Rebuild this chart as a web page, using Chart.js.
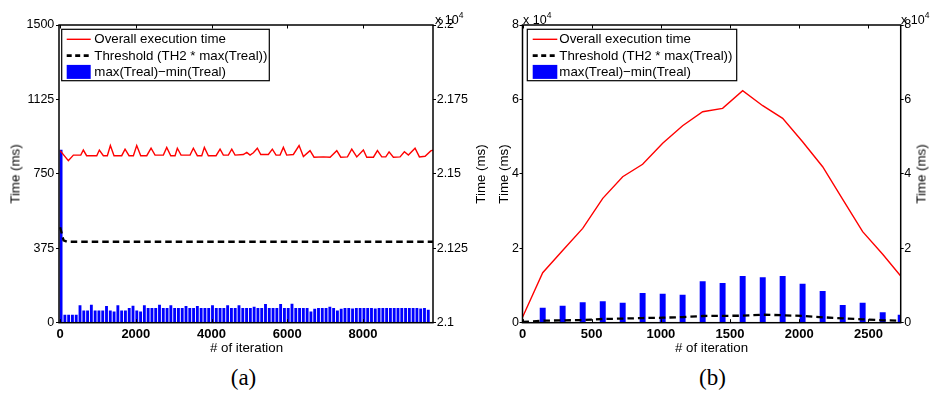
<!DOCTYPE html>
<html>
<head>
<meta charset="utf-8">
<script src="https://cdn.jsdelivr.net/npm/chart.js@4.4.0/dist/chart.umd.min.js"></script>
<style>
  body { margin:0; background:#fff; width:935px; height:394px; position:relative; overflow:hidden;
         font-family:'Liberation Sans', Arial, sans-serif; color:#000; }
  .panel { position:absolute; top:0; height:360px; }
  .lab { position:absolute; font-size:13.3px; white-space:nowrap; transform:translate(-50%,-50%); }
  .rot { transform:translate(-50%,-50%) rotate(-90deg); }
  .exp { position:absolute; font-size:12.5px; white-space:nowrap; line-height:14px; }
  .exp span { font-size:8.5px; vertical-align:6px; }
  .cap { position:absolute; font-family:'Liberation Serif', 'DejaVu Serif', serif; font-size:23px; transform:translate(-50%,-50%); }
</style>
</head>
<body>
<div class="panel" style="left:0;width:470px"><canvas id="chartA"></canvas></div>
<div class="panel" style="left:470px;width:465px"><canvas id="chartB"></canvas></div>

<div class="lab rot" style="left:15px;top:174px">Time (ms)</div>
<div class="lab rot" style="left:479.5px;top:174px">Time (ms)</div>
<div class="lab rot" style="left:502.5px;top:174px">Time (ms)</div>
<div class="lab rot" style="left:921px;top:174px">Time (ms)</div>
<div class="lab" style="left:246.5px;top:347px"># of iteration</div>
<div class="lab" style="left:711.5px;top:347px"># of iteration</div>
<div class="exp" style="left:435px;top:8px">x 10<span>4</span></div>
<div class="exp" style="left:523px;top:8px">x 10<span>4</span></div>
<div class="exp" style="left:901px;top:8px">x 10<span>4</span></div>
<div class="cap" style="left:243.5px;top:378px">(a)</div>
<div class="cap" style="left:712.5px;top:378px">(b)</div>

<script>
// ---- panel (a): ~10000 iterations ----
const aXTicks = [0, 2000, 4000, 6000, 8000];
const aYTicks = [0, 375, 750, 1125, 1500];
const aY2Ticks = [21000, 21250, 21500, 21750, 22000];

// overall execution time (right axis, ms)
const aRedIter = [0,217,350,545,613,700,967,1036,1142,1247,1327,1424,1627,1715,1820,1935,2023,2129,2288,2402,
  2507,2727,2816,2922,3036,3096,3194,3432,3519,3625,3741,3810,3916,4119,4225,4312,4444,4534,4621,4840,
  4930,5017,5105,5210,5300,5500,5606,5704,5810,5897,5985,6161,6312,6426,6602,6708,6954,7131,7308,7414,
  7590,7704,7836,8011,8100,8276,8382,8497,8602,8690,8803,8980,9094,9200,9376,9491,9641,9791,9850];
const aRedTime = [21578,21544,21563,21563,21580,21561,21561,21580,21561,21561,21595,21561,21561,21583,21561,21561,21595,21561,21561,21586,
  21563,21563,21589,21561,21561,21586,21563,21563,21586,21561,21561,21589,21561,21561,21583,21563,21563,21583,21563,21565,
  21572,21563,21571,21586,21565,21565,21583,21563,21563,21589,21563,21565,21595,21558,21578,21556,21557,21556,21578,21556,
  21557,21583,21557,21580,21556,21556,21578,21557,21557,21574,21556,21557,21574,21563,21586,21557,21559,21577,21580];

// threshold (left axis, ms)
const aThrIter = [0, 90, 180, 9850];
const aThrTime = [481, 415, 408, 408];

// max(Treal)-min(Treal) (left axis, ms)
const aBarIter = [25,125,225,325,425,525,625,725,825,925,
  1025,1125,1225,1325,1425,1525,1625,1725,1825,1925,
  2025,2125,2225,2325,2425,2525,2625,2725,2825,2925,
  3025,3125,3225,3325,3425,3525,3625,3725,3825,3925,
  4025,4125,4225,4325,4425,4525,4625,4725,4825,4925,
  5025,5125,5225,5325,5425,5525,5625,5725,5825,5925,
  6025,6125,6225,6325,6425,6525,6625,6725,6825,6925,
  7025,7125,7225,7325,7425,7525,7625,7725,7825,7925,
  8025,8125,8225,8325,8425,8525,8625,8725,8825,8925,
  9025,9125,9225,9325,9425,9525,9625,9725];
const aBarTime = [870,39,39,39,39,86,60,60,89,60,
  60,60,82,60,55,86,60,60,72,84,
  60,55,86,72,72,72,89,72,72,86,
  72,72,72,83,72,72,83,72,72,72,
  86,72,72,72,86,72,72,86,72,72,
  72,79,72,72,92,72,72,72,92,72,
  72,94,72,72,72,72,55,68,72,72,
  72,79,72,60,68,72,72,70,72,72,
  72,72,72,70,72,72,72,72,72,72,
  72,72,72,72,72,70,72,63];

// ---- panel (b): ~2700 iterations ----
const bXTicks = [0, 500, 1000, 1500, 2000, 2500];
const bYTicks = [0, 20000, 40000, 60000, 80000];
const bIter = [0,146,290,435,580,724,868,1013,1157,1302,1446,1591,1736,1880,2024,2169,2314,2458,2603,2733];
const bRedTime = [1450,13436,19400,25350,33420,39240,42560,48200,52940,56700,57600,62340,58310,54920,48640,41920,33160,24460,18400,12550];
const bThrTime = [200,540,620,720,1000,1100,1250,1340,1500,1800,1850,1880,2150,2010,1800,1450,1180,900,640,540];
const bBarIter = [146,290,435,580,724,868,1013,1157,1302,1446,1591,1736,1880,2024,2169,2314,2458,2603,2733];
const bBarTime = [3950,4490,5380,5650,5290,7900,7710,7440,11020,10590,12470,12100,12470,10400,8430,4670,5290,2690,2070];

const labels = ['Overall execution time', 'Threshold (TH2 * max(Treal))', 'max(Treal)\u2212min(Treal)'];

Chart.defaults.font.family = "'Liberation Sans', Arial, sans-serif";
Chart.defaults.color = '#000';

const pts = (xs, ys) => xs.map((x, i) => ({x: x, y: ys[i]}));
const fixTicks = list => s => { s.ticks = list.map(v => ({value: v})); };
const legendFont = Chart.helpers.toFont({ size: 13.3, family: "'Liberation Sans', Arial, sans-serif" });

// MATLAB-like frame: box, inward x ticks, and a boxed legend
const frame = {
  id: 'frame',
  afterDraw(chart, args, o) {
    const ctx = chart.ctx, a = chart.chartArea, xs = chart.scales.x;
    ctx.save();
    ctx.strokeStyle = '#000';
    ctx.lineWidth = 1;
    xs.ticks.forEach(t => {
      const px = Math.round(xs.getPixelForValue(t.value)) + 0.5;
      ctx.beginPath();
      ctx.moveTo(px, a.bottom); ctx.lineTo(px, a.bottom - 3.5);
      ctx.moveTo(px, a.top); ctx.lineTo(px, a.top + 3.5);
      ctx.stroke();
    });
    ctx.lineWidth = 1.5;
    ctx.strokeRect(a.left, a.top, a.right - a.left, a.bottom - a.top);

    const bx = a.left + o.dx, by = a.top + o.dy;
    ctx.fillStyle = '#fff';
    ctx.fillRect(bx, by, o.w, o.h);
    ctx.lineWidth = 1.2;
    ctx.strokeRect(bx, by, o.w, o.h);
    ctx.font = legendFont.string;
    ctx.textBaseline = 'middle';
    ctx.textAlign = 'left';
    chart.data.datasets.forEach((ds, i) => {
      const cy = by + 10 + i * 16.3;
      if (ds.type === 'bar') {
        ctx.fillStyle = ds.backgroundColor;
        ctx.fillRect(bx + o.s0, cy - 7, o.s1 - o.s0, 14);
      } else {
        ctx.strokeStyle = ds.borderColor;
        ctx.lineWidth = ds.borderDash ? 2.6 : 1.4;
        ctx.setLineDash(ds.borderDash ? [5, 3.5] : []);
        ctx.beginPath();
        ctx.moveTo(bx + o.s0, cy); ctx.lineTo(bx + o.s1, cy);
        ctx.stroke();
        ctx.setLineDash([]);
      }
      ctx.fillStyle = '#000';
      ctx.fillText(ds.label, bx + o.tx, cy + 0.5);
    });
    ctx.restore();
  }
};

function yAxis(pos, min, max, list, width, pad, fmt) {
  return {
    position: pos, min: min, max: max,
    afterBuildTicks: fixTicks(list),
    afterFit: s => { s.width = width; },
    grid: { drawOnChartArea: false, drawTicks: true, tickLength: 3, color: '#000' },
    border: { display: false },
    ticks: { font: { size: 12.5 }, color: '#000', padding: pad, callback: fmt }
  };
}

function xAxis(min, max, list) {
  return {
    type: 'linear', min: min, max: max, offset: false,
    afterBuildTicks: fixTicks(list),
    afterFit: s => { s.height = 37.3; },
    grid: { display: false, drawTicks: false },
    border: { display: false },
    ticks: { font: { size: 13, weight: 'bold' }, color: '#000', padding: 3.5, maxRotation: 0,
             autoSkip: false, callback: v => String(v) }
  };
}

const common = {
  responsive: true,
  maintainAspectRatio: false,
  animation: false,
  layout: { padding: { top: 25, left: 0, right: 0, bottom: 0 } },
  plugins: { legend: { display: false }, tooltip: { enabled: false } }
};

new Chart(document.getElementById('chartA'), {
  type: 'line',
  data: {
    datasets: [
      { type: 'line', label: labels[0], data: pts(aRedIter, aRedTime), yAxisID: 'y2',
        borderColor: '#ff0000', borderWidth: 1.4, pointRadius: 0, tension: 0 },
      { type: 'line', label: labels[1], data: pts(aThrIter, aThrTime), yAxisID: 'y',
        borderColor: '#000', borderWidth: 2.3, borderDash: [6.5, 4], pointRadius: 0, tension: 0 },
      { type: 'bar', label: labels[2], data: pts(aBarIter, aBarTime), yAxisID: 'y',
        backgroundColor: '#0000ff', barThickness: 2.2, borderWidth: 0 }
    ]
  },
  options: Object.assign({}, common, {
    scales: {
      x: xAxis(-30, 9850, aXTicks),
      y: yAxis('left', 0, 1500, aYTicks, 59, 1.7),
      y2: yAxis('right', 21000, 22000, aY2Ticks, 37, 0.7, v => String(v / 10000))
    },
    plugins: Object.assign({}, common.plugins, {
      frame: { dx: 2.7, dy: 4.3, w: 207.6, h: 51.4, s0: 5, s1: 29, tx: 32.6 }
    })
  }),
  plugins: [frame]
});

new Chart(document.getElementById('chartB'), {
  type: 'line',
  data: {
    datasets: [
      { type: 'line', label: labels[0], data: pts(bIter, bRedTime), yAxisID: 'y',
        borderColor: '#ff0000', borderWidth: 1.4, pointRadius: 0, tension: 0 },
      { type: 'line', label: labels[1], data: pts(bIter, bThrTime), yAxisID: 'y',
        borderColor: '#000', borderWidth: 2.3, borderDash: [6.5, 4], pointRadius: 0, tension: 0 },
      { type: 'bar', label: labels[2], data: pts(bBarIter, bBarTime), yAxisID: 'y',
        backgroundColor: '#0000ff', barThickness: 5.3, borderWidth: 0 }
    ]
  },
  options: Object.assign({}, common, {
    scales: {
      x: xAxis(0, 2733, bXTicks),
      y: yAxis('left', 0, 80000, bYTicks, 52.5, 0.5, v => String(v / 10000)),
      y2: yAxis('right', 0, 80000, bYTicks, 34.3, 0.5, v => String(v / 10000))
    },
    plugins: Object.assign({}, common.plugins, {
      frame: { dx: 4.8, dy: 4.3, w: 209.4, h: 51.4, s0: 5.4, s1: 30, tx: 32 }
    })
  }),
  plugins: [frame]
});
</script>
</body>
</html>
